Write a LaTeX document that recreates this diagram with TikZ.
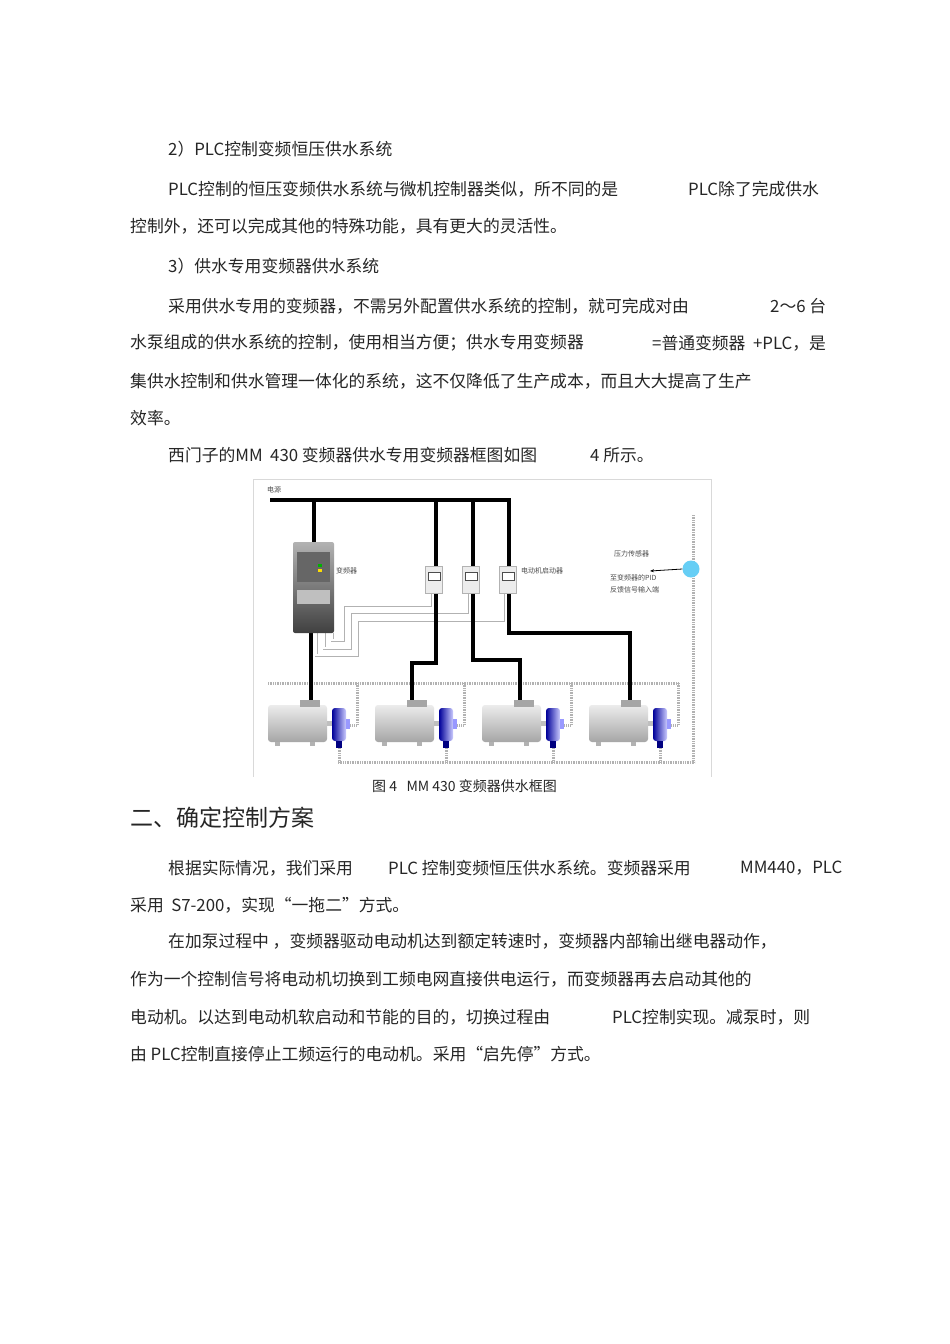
\documentclass[tikz,border=0pt]{standalone}
\usepackage{fontspec}
\setmainfont{Noto Sans CJK SC}
\usetikzlibrary{arrows.meta}
\begin{document}
\begin{tikzpicture}[x=1pt,y=-1pt,
  txt/.style={anchor=west,inner sep=0pt,font=\fontsize{16.8}{17}\selectfont,text=black!85},
  small/.style={anchor=west,inner sep=0pt,font=\fontsize{7}{8}\selectfont,text=black!70},
  power/.style={line width=3.5pt,black},
  sigo/.style={draw=gray!60,line width=3pt},
  sigi/.style={draw=white,line width=1.4pt},
  pipe/.style={line width=3pt,gray!60,dash pattern=on 1pt off 0.7pt},
  startbox/.style={draw=gray!60,fill=gray!15,minimum width=17pt,minimum height=27pt,inner sep=0pt}]
\useasboundingbox (0,0) rectangle (950,1344);
\fill[white] (0,0) rectangle (950,1344);
% text
\node[txt] (l1) at (168,149) {2）PLC控制变频恒压供水系统};
\node[txt] (l2a) at (168,189) {PLC控制的恒压变频供水系统与微机控制器类似，所不同的是};
\node[txt] (l2b) at (688,189) {PLC除了完成供水};
\node[txt] (l3) at (130,226) {控制外，还可以完成其他的特殊功能，具有更大的灵活性。};
\node[txt] (l4) at (168,266) {3）供水专用变频器供水系统};
\node[txt] (l5a) at (168,306) {采用供水专用的变频器，不需另外配置供水系统的控制，就可完成对由};
\node[txt] (l5b) at (770,306) {2～6 台};
\node[txt] (l6a) at (130,343) {水泵组成的供水系统的控制，使用相当方便；供水专用变频器};
\node[txt] (l6b) at (652,343) {=普通变频器 \ +PLC，是};
\node[txt] (l7) at (130,381) {集供水控制和供水管理一体化的系统，这不仅降低了生产成本，而且大大提高了生产};
\node[txt] (l8) at (130,418) {效率。};
\node[txt] (l9a) at (168,455) {西门子的MM \ 430 变频器供水专用变频器框图如图};
\node[txt] (l9b) at (590,455) {4 所示。};
% figure frame
\draw[gray!30,line width=1pt] (253,479) -- (711,479) -- (711,777);
\draw[gray!30,line width=1pt] (253,479) -- (253,777);
\node[small] (src) at (267,490) {电源};
% pipes
\draw[pipe] (268,683) -- (678,683);
\draw[pipe] (338,762) -- (695,762);
\draw[pipe] (693,515) -- (693,762);
\foreach \dx in {0,107,214,321}{
  \draw[pipe] (357+\dx,683) -- (357+\dx,725) -- (350+\dx,725);
  \draw[pipe] (339+\dx,748) -- (339+\dx,762);
}
% signal wires
\foreach \s in {sigo,sigi}{
\draw[\s] (430,594) -- (430,605) -- (343,605) -- (343,640) -- (332,640) -- (332,633);
\draw[\s] (467,594) -- (467,612) -- (350,612) -- (350,648) -- (324,648) -- (324,633);
\draw[\s] (503,594) -- (503,620) -- (357,620) -- (357,655) -- (316,655) -- (316,633);
}
% power
\draw[power] (270,500) -- (511,500);
\draw[power] (314,500) -- (314,542);
\draw[power] (436,500) -- (436,567);
\draw[power] (473,500) -- (473,567);
\draw[power] (509,500) -- (509,567);
\draw[power] (436,594) -- (436,663) -- (412,663) -- (412,702);
\draw[power] (473,594) -- (473,660) -- (520,660) -- (520,702);
\draw[power] (509,594) -- (509,633) -- (630,633) -- (630,702);
\draw[power] (311,633) -- (311,702);
% inverter
\shade[top color=gray!60,bottom color=black!75,rounded corners=2pt] (293,542) rectangle (334,633);
\fill[black!60] (297,552) rectangle (330,582);
\fill[gray!50] (297,590) rectangle (330,604);
\fill[green!70!black] (318,564) rectangle (322,567);
\fill[yellow!80!orange] (318,569) rectangle (322,572);
\node[small] (invl) at (336,571) {变频器};
% starters
\foreach \x/\n in {434/s1,471/s2,508/s3}{
  \node[startbox] (\n) at (\x,580) {};
  \fill[white] (\x-6,572) rectangle (\x+6,580);
  \draw[black!70] (\x-6,572) rectangle (\x+6,580);
}
\node[small] (stl) at (521,571) {电动机启动器};
% sensor
\node[small] (pl) at (614,554) {压力传感器};
\node[small] (fb1) at (610,578) {至变频器的PID};
\node[small] (fb2) at (610,590) {反馈信号输入端};
\node[circle,fill=cyan!60,minimum size=17pt,inner sep=0pt] (sens) at (691,569) {};
\coordinate (arr) at (650,571);
\draw[-{Stealth[length=4pt]},line width=0.8pt] (sens.west) -- (arr);
% motors
\foreach \dx in {0,107,214,321}{
  \shade[top color=gray!15,bottom color=gray!70,rounded corners=3pt] (268+\dx,705) rectangle (327+\dx,742);
  \fill[gray!70] (300+\dx,700) rectangle (320+\dx,707);
  \fill[gray!60] (275+\dx,742) rectangle (280+\dx,746);
  \fill[gray!60] (310+\dx,742) rectangle (315+\dx,746);
  \fill[gray!50] (327+\dx,721) rectangle (333+\dx,726);
  \shade[left color=blue!60!black,right color=blue!20,rounded corners=3pt] (332+\dx,708) rectangle (346+\dx,741);
  \fill[blue!40] (346+\dx,719) rectangle (350+\dx,729);
  \fill[blue!50!black] (336+\dx,741) rectangle (342+\dx,748);
}
\node[anchor=west,inner sep=0pt,font=\fontsize{14}{14}\selectfont,text=black!85] (cap) at (372,786) {图 4 \ \ MM 430 变频器供水框图};
\node[anchor=west,inner sep=0pt,font=\fontsize{23}{23}\selectfont,text=black!85] (h2) at (130,818) {二、确定控制方案};
\node[txt] (m1a) at (168,868) {根据实际情况，我们采用};
\node[txt] (m1b) at (388,868) {PLC 控制变频恒压供水系统。变频器采用};
\node[txt] (m1c) at (740,868) {MM440，PLC};
\node[txt] (m2) at (130,905) {采用 \ S7-200，实现“一拖二”方式。};
\node[txt] (m3) at (168,941) {在加泵过程中 ，变频器驱动电动机达到额定转速时，变频器内部输出继电器动作，};
\node[txt] (m4) at (130,979) {作为一个控制信号将电动机切换到工频电网直接供电运行，而变频器再去启动其他的};
\node[txt] (m5a) at (130,1017) {电动机。以达到电动机软启动和节能的目的，切换过程由};
\node[txt] (m5b) at (612,1017) {PLC控制实现。减泵时，则};
\node[txt] (m6) at (130,1054) {由 PLC控制直接停止工频运行的电动机。采用“启先停”方式。};
\end{tikzpicture}
\end{document}
